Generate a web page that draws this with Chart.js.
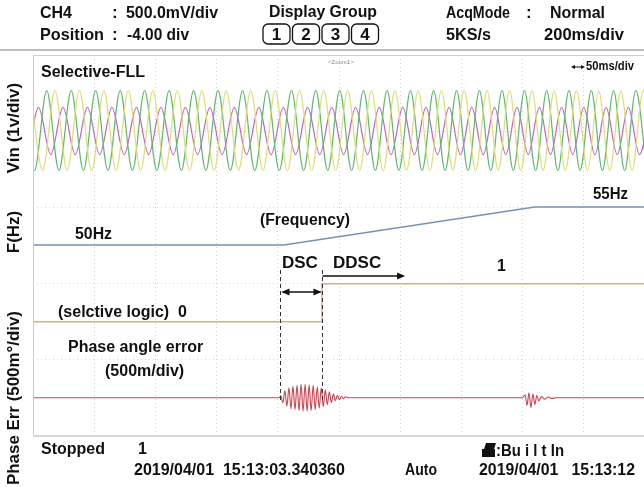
<!DOCTYPE html>
<html>
<head>
<meta charset="utf-8">
<script src="https://cdn.jsdelivr.net/npm/chart.js@4.4.0/dist/chart.umd.min.js"></script>
<style>
  html, body { margin: 0; padding: 0; background: #fff; overflow: hidden; }
  #scope { position: absolute; left: 0; top: 0; }
</style>
</head>
<body>
<canvas id="scope" width="646" height="487"></canvas>
<script>
// time in ms (50 ms/div), vertical position in screen divisions (0 = bottom, 5 = top)

// Vin: times of successive peaks / troughs, every list starts on a peak
const vinGreenT = [-8.8, 1.2, 11.2, 21.2, 31.2, 41.2, 51.2, 61.2, 71.2, 81.2, 91.2, 101.2, 111.2, 121.2, 131.2, 141.2,
  151.2, 161.2, 171.2, 181.2, 191.2, 201.2, 211.2, 221.1, 231.0, 240.8, 250.6, 260.3, 270.0, 279.7, 289.3, 298.9,
  308.4, 317.9, 327.3, 336.7, 346.1, 355.4, 364.7, 374.0, 383.2, 392.4, 401.5, 410.6, 419.7, 428.8, 437.9, 447.0,
  456.1, 465.2, 474.3, 483.4, 492.5, 501.5];
const vinYellowT = [-2.1, 7.9, 17.9, 27.9, 37.9, 47.9, 57.9, 67.9, 77.9, 87.9, 97.9, 107.9, 117.9, 127.9, 137.9, 147.9,
  157.9, 167.9, 177.9, 187.9, 197.9, 207.8, 217.8, 227.7, 237.5, 247.3, 257.1, 266.8, 276.5, 286.1, 295.7, 305.2,
  314.7, 324.2, 333.6, 343.0, 352.3, 361.6, 370.9, 380.1, 389.3, 398.5, 407.6, 416.7, 425.8, 434.9, 444.0, 453.1,
  462.1, 471.2, 480.3, 489.4, 498.5, 507.6];
const vinMagentaT = [-15.5, -5.5, 4.5, 14.5, 24.5, 34.5, 44.5, 54.5, 64.5, 74.5, 84.5, 94.5, 104.5, 114.5, 124.5, 134.5,
  144.5, 154.5, 164.5, 174.5, 184.5, 194.5, 204.5, 214.5, 224.4, 234.3, 244.1, 253.8, 263.6, 273.3, 282.9, 292.5,
  302.1, 311.6, 321.0, 330.5, 339.9, 349.2, 358.5, 367.8, 377.1, 386.3, 395.4, 404.6, 413.7, 422.8, 431.9, 440.9,
  450.0, 459.1, 468.2, 477.3, 486.4, 495.5, 504.5];
const vinGreenLevels = [4.53, 3.48];    // [peak, trough]
const vinYellowLevels = [4.53, 3.48];
const vinMagentaLevels = [4.31, 3.69];

// frequency trace: 50 Hz -> 55 Hz
const freqT = [0, 205, 410, 500];
const freqDiv = [2.5, 2.5, 3.0, 3.0];

// selective logic 0 -> 1
const logicT = [0, 236, 236, 500];
const logicDiv = [1.49, 1.49, 1.99, 1.99];

// phase angle error
const errT = [0, 201, 202.5, 204.15, 205.8, 207.45, 209.1, 210.75, 212.4, 214.05, 215.7, 217.35, 219.0, 220.65,
  222.3, 223.95, 225.6, 227.25, 228.9, 230.55, 232.2, 233.85, 235.5, 237.15, 238.8, 240.45, 242.1, 243.75, 245.4,
  247.05, 248.7, 250.35, 252.0, 253.65, 255.3, 258,
  400, 402.0, 403.6, 405.2, 406.8, 408.4, 410.0, 411.6, 413.2, 415.5, 418, 421, 424, 427, 500];
const errDiv = [0.49, 0.49, 0.516, 0.425, 0.582, 0.379, 0.621, 0.346, 0.641, 0.333, 0.654, 0.320, 0.667, 0.313,
  0.667, 0.313, 0.660, 0.320, 0.654, 0.333, 0.634, 0.353, 0.621, 0.372, 0.595, 0.398, 0.569, 0.425, 0.542,
  0.451, 0.523, 0.464, 0.510, 0.477, 0.503, 0.49,
  0.49, 0.53, 0.39, 0.555, 0.36, 0.54, 0.40, 0.52, 0.45, 0.505, 0.47, 0.50, 0.48, 0.49, 0.49];

// DSC marker lines and end of the DDSC arrow
const dscT = [202, 236];
const ddscEndT = 304;

function extremes(times, levels) {
  return times.map((t, i) => ({ x: t, y: levels[i % 2] }));
}
function pairs(ts, vs) {
  return ts.map((t, i) => ({ x: t, y: vs[i] }));
}

const FONT = "'Liberation Sans', Arial, sans-serif";

function txt(ctx, s, x, y, size, w) {
  ctx.font = 'bold ' + size + 'px ' + FONT;
  ctx.textAlign = 'left';
  ctx.textBaseline = 'middle';
  if (w) ctx.fillText(s, x, y, w); else ctx.fillText(s, x, y);
}

function vtxt(ctx, s, cx, cy, size, w) {
  ctx.save();
  ctx.translate(cx, cy);
  ctx.rotate(-Math.PI / 2);
  ctx.font = 'bold ' + size + 'px ' + FONT;
  ctx.textAlign = 'center';
  ctx.textBaseline = 'middle';
  ctx.fillText(s, 0, 0, w);
  ctx.restore();
}

function arrowHead(ctx, x, y, dir) {
  ctx.beginPath();
  ctx.moveTo(x, y);
  ctx.lineTo(x - dir * 8, y - 3.5);
  ctx.lineTo(x - dir * 8, y + 3.5);
  ctx.closePath();
  ctx.fill();
}

const scopeDecor = {
  id: 'scopeDecor',
  beforeDraw(chart) {
    const ctx = chart.ctx;
    ctx.save();
    ctx.fillStyle = '#fff';
    ctx.fillRect(0, 0, chart.width, chart.height);
    ctx.restore();
  },
  afterDatasetsDraw(chart) {
    const ctx = chart.ctx;
    const a = chart.chartArea;
    const xs = chart.scales.x;
    ctx.save();
    // plot frame
    ctx.strokeStyle = '#cccccc';
    ctx.lineWidth = 1;
    ctx.beginPath();
    ctx.moveTo(a.left + 0.5, a.top);
    ctx.lineTo(a.left + 0.5, a.bottom);
    ctx.moveTo(a.left, a.top + 0.5);
    ctx.lineTo(a.right, a.top + 0.5);
    ctx.stroke();
    ctx.strokeStyle = '#d6d6d6';
    ctx.lineWidth = 2;
    ctx.beginPath();
    ctx.moveTo(a.left, a.bottom + 1);
    ctx.lineTo(a.right, a.bottom + 1);
    ctx.stroke();

    // DSC dashed markers
    const x1 = Math.round(xs.getPixelForValue(dscT[0])) + 0.5;
    const x2 = Math.round(xs.getPixelForValue(dscT[1])) + 0.5;
    ctx.strokeStyle = '#333';
    ctx.lineWidth = 1;
    ctx.setLineDash([4, 3]);
    ctx.beginPath();
    ctx.moveTo(x1, 270); ctx.lineTo(x1, 400);
    ctx.moveTo(x2, 270); ctx.lineTo(x2, 400);
    ctx.stroke();
    ctx.setLineDash([]);

    // arrows
    ctx.fillStyle = '#111';
    ctx.strokeStyle = '#111';
    ctx.lineWidth = 1.5;
    ctx.beginPath();
    ctx.moveTo(x1 + 2, 292); ctx.lineTo(x2 - 2, 292);
    ctx.stroke();
    arrowHead(ctx, x1 + 1, 292, -1);
    arrowHead(ctx, x2 - 1, 292, 1);
    const x3 = xs.getPixelForValue(ddscEndT);
    ctx.beginPath();
    ctx.moveTo(x2, 276); ctx.lineTo(x3 - 2, 276);
    ctx.stroke();
    arrowHead(ctx, x3, 276, 1);
    ctx.restore();
  },
  afterDraw(chart) {
    const ctx = chart.ctx;
    ctx.save();
    ctx.fillStyle = '#111';

    // header
    txt(ctx, 'CH4', 40, 13, 17, 32);
    txt(ctx, ':', 112, 13, 17);
    txt(ctx, '500.0mV/div', 126, 13, 17, 92);
    txt(ctx, 'Position', 40, 35, 17, 64);
    txt(ctx, ':', 112, 35, 17);
    txt(ctx, '-4.00 div', 127, 35, 17, 62);
    txt(ctx, 'Display Group', 269, 12, 17, 108);
    const boxes = ['1', '2', '3', '4'];
    boxes.forEach((b, i) => {
      const bx = 263 + i * 29.5;
      ctx.strokeStyle = '#111';
      ctx.lineWidth = 1.3;
      ctx.beginPath();
      ctx.roundRect(bx, 24, 27, 20, 5);
      ctx.stroke();
      ctx.font = 'bold 17px ' + FONT;
      ctx.textAlign = 'center';
      ctx.textBaseline = 'middle';
      ctx.fillText(b, bx + 13.5, 35);
    });
    txt(ctx, 'AcqMode', 446, 13, 17, 64);
    txt(ctx, ':', 526, 13, 17);
    txt(ctx, 'Normal', 550, 13, 17, 55);
    txt(ctx, '5KS/s', 446, 35, 17, 45);
    txt(ctx, '200ms/div', 544, 35, 17, 80);

    // header separator
    ctx.strokeStyle = '#bdbdbd';
    ctx.lineWidth = 2;
    ctx.beginPath();
    ctx.moveTo(0, 50);
    ctx.lineTo(chart.width, 50);
    ctx.stroke();

    // left axis titles
    vtxt(ctx, 'Vin (1v/div)', 14, 128, 17, 92);
    vtxt(ctx, 'F(Hz)', 14, 232, 17, 46);
    vtxt(ctx, 'Phase Err (500m\u00b0/div)', 14, 398, 17, 174);

    // labels in the plot
    txt(ctx, 'Selective-FLL', 41, 73, 16, 104);
    ctx.fillStyle = '#888';
    ctx.font = '6px ' + FONT;
    ctx.textAlign = 'left';
    ctx.fillText('<Zoom1>', 328, 62);
    ctx.fillStyle = '#111';
    // 50 ms/div marker
    ctx.lineWidth = 1;
    ctx.strokeStyle = '#111';
    ctx.beginPath();
    ctx.moveTo(573, 67); ctx.lineTo(583, 67);
    ctx.stroke();
    ctx.beginPath();
    ctx.moveTo(571, 67); ctx.lineTo(575, 65); ctx.lineTo(575, 69); ctx.closePath(); ctx.fill();
    ctx.beginPath();
    ctx.moveTo(585, 67); ctx.lineTo(581, 65); ctx.lineTo(581, 69); ctx.closePath(); ctx.fill();
    txt(ctx, '50ms/div', 586, 67, 12, 48);

    txt(ctx, '50Hz', 75, 235, 16, 37);
    txt(ctx, '(Frequency)', 260, 221, 16, 90);
    txt(ctx, '55Hz', 593, 195, 16, 35);
    txt(ctx, 'DSC', 282, 263, 17, 39);
    txt(ctx, 'DDSC', 333, 263, 17, 55);
    txt(ctx, '1', 497, 267, 16, 9);
    txt(ctx, '(selctive logic)  0', 58, 313, 16, 132);
    txt(ctx, 'Phase angle error', 68, 348, 16, 144);
    txt(ctx, '(500m/div)', 105, 372, 16, 86);

    // footer
    txt(ctx, 'Stopped', 41, 450, 16, 64);
    txt(ctx, '1', 138, 450, 16, 9);
    txt(ctx, '2019/04/01  15:13:03.340360', 134, 471, 16, 220);
    txt(ctx, 'Auto', 405, 471, 16, 32);
    // printer icon
    ctx.fillRect(482, 449, 13, 8);
    ctx.beginPath();
    ctx.moveTo(484, 449); ctx.lineTo(486, 443); ctx.lineTo(496, 443); ctx.lineTo(494, 449); ctx.closePath(); ctx.fill();
    txt(ctx, ':Bu i l t In', 496, 452, 16, 68);
    txt(ctx, '2019/04/01   15:13:12', 479, 471, 16, 156);
    ctx.restore();
  }
};

const gridOpts = { color: '#d2d2d2', lineWidth: 1, drawTicks: false };

new Chart(document.getElementById('scope'), {
  type: 'line',
  data: {
    datasets: [
      { data: extremes(vinYellowT, vinYellowLevels), borderColor: '#dede78', borderWidth: 1.2, cubicInterpolationMode: 'monotone' },
      { data: extremes(vinGreenT, vinGreenLevels), borderColor: '#5fb86d', borderWidth: 1.2, cubicInterpolationMode: 'monotone' },
      { data: extremes(vinMagentaT, vinMagentaLevels), borderColor: '#c062c4', borderWidth: 1.2, cubicInterpolationMode: 'monotone' },
      { data: pairs(freqT, freqDiv), borderColor: '#7592b6', borderWidth: 1.4 },
      { data: pairs(logicT, logicDiv), borderColor: '#d6b46a', borderWidth: 1.4 },
      { data: pairs(errT, errDiv), borderColor: '#c9434f', borderWidth: 1.1, cubicInterpolationMode: 'monotone' }
    ]
  },
  options: {
    responsive: false,
    animation: false,
    events: [],
    layout: { padding: { left: 33, top: 55, right: 1, bottom: 52 } },
    plugins: { legend: { display: false }, tooltip: { enabled: false } },
    elements: { point: { radius: 0 } },
    scales: {
      x: {
        type: 'linear', min: 0, max: 500,
        ticks: { display: false, stepSize: 50 },
        grid: gridOpts,
        border: { display: false, dash: [1, 3] },
        afterFit: s => { s.height = 0; }
      },
      y: {
        type: 'linear', min: 0, max: 5,
        ticks: { display: false, stepSize: 1 },
        grid: gridOpts,
        border: { display: false, dash: [1, 3] },
        afterFit: s => { s.width = 0; }
      }
    }
  },
  plugins: [scopeDecor]
});
</script>
</body>
</html>
